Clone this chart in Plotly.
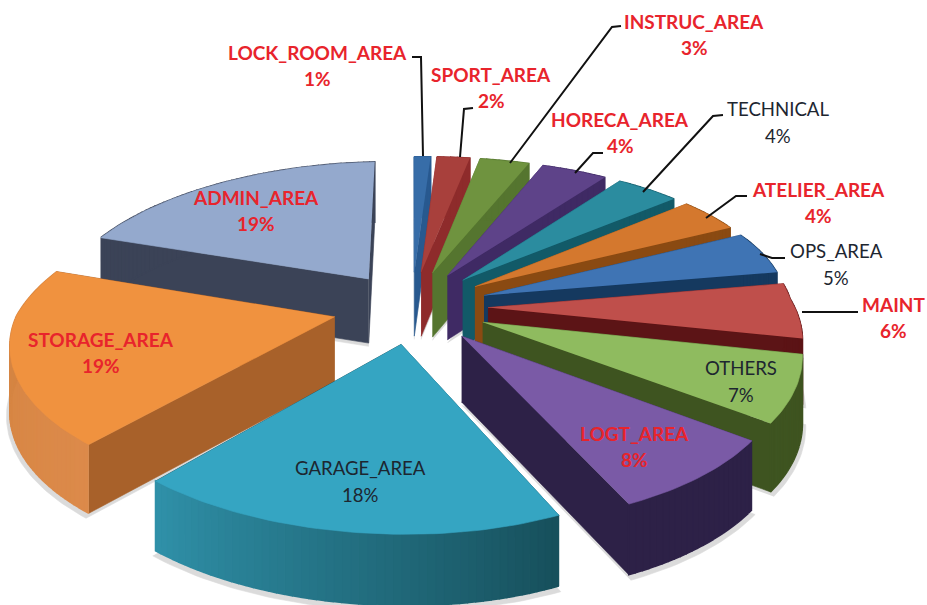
import numpy as np
import plotly.graph_objects as go

# ---- data (clockwise from 12 o'clock) ----
CATEGORIES = ["LOCK_ROOM_AREA", "SPORT_AREA", "INSTRUC_AREA", "HORECA_AREA", "TECHNICAL",
              "ATELIER_AREA", "OPS_AREA", "MAINT", "OTHERS", "LOGT_AREA",
              "GARAGE_AREA", "STORAGE_AREA", "ADMIN_AREA"]
VALUES = [1, 2, 3, 4, 4, 4, 5, 6, 7, 8, 18, 19, 19]

# ---- styles ----
TOP = ["#376da8", "#a8403c", "#6f933f", "#5e4389", "#2b8c9f", "#d4782e", "#3f74b4",
       "#bf4f4b", "#8fbb5f", "#7a5aa6", "#35a5c2", "#f0923f", "#94a9cd"]
RADIAL = ["#28598f", "#8e2b2b", "#55752f", "#3f2a64", "#125a68", "#8a4a12", "#15395f",
          "#5c1416", "#3e5420", "#2d2147", "#17505c", "#a8612a", "#3b4357"]
OUTER_A = ["#28598f", "#8e2b2b", "#55752f", "#3f2a64", "#125a68", "#8a4a12", "#15395f",
           "#5c1416", "#3e5420", "#2d2147", "#17505c", "#dc8a4a", "#3b4357"]
OUTER_B = ["#28598f", "#8e2b2b", "#55752f", "#3f2a64", "#125a68", "#8a4a12", "#15395f",
           "#5c1416", "#3e5420", "#2d2147", "#2f90a8", "#d2823f", "#3b4357"]
RED = "#e8242c"
BLACK = "#1d2630"
LABEL_RED = [True, True, True, True, False, True, False, True, False, True, False, True, True]
NAME_POS = [(317, 52), (491, 74), (694, 21), (620, 119), (778, 109), (818, 189), (836, 251),
            (893, 304), (741, 368), (634, 433), (360, 468), (101, 339), (256, 197)]
LINE_GAP = 26.5
LEADERS = [
    [(412, 57), (421, 57), (423, 156)],
    [(473, 108), (464, 109), (460, 157)],
    [(621, 26), (612, 27), (510, 163)],
    [(603, 153), (593, 153), (575, 173)],
    [(723, 115), (713, 116), (643, 192)],
    [(747, 196), (736, 196), (706, 218)],
    [(785, 258), (772, 258), (760, 254)],
    [(858, 312), (802, 312)],
]

# ---- projection ----
CX, CY = 412, 307
A, B, K, H, S = 312, 145, 0.165, 65, 18
A_RIGHT, A_RIGHT_BACK, A_LEFT = 0.97, 0.05, 1.02
ROLL = 0.022
EXPLODE = 0.25


def project(x, y, z=0.0):
    x = np.asarray(x, float)
    y = np.asarray(y, float)
    s = 1 / (1 + K * y)
    back = np.clip(y, 0, 1)
    scale = np.where(x > 0, A_RIGHT + A_RIGHT_BACK * back, A_LEFT)
    sx = (A * x * scale - S * np.minimum(y, 0)) * s
    roll = np.where(sx > 0, ROLL * (1 - 0.5 * back), ROLL)
    return CX + sx, CY - B * y * s + H * z * s ** 0.4 - roll * sx


def mix(c1, c2, t):
    a = [int(c1[i:i + 2], 16) for i in (1, 3, 5)]
    b = [int(c2[i:i + 2], 16) for i in (1, 3, 5)]
    return "#" + "".join(f"{round(p + (q - p) * t):02x}" for p, q in zip(a, b))


fig = go.Figure()


def poly(xs, ys, color, opacity=1.0, width=0.6):
    fig.add_trace(go.Scatter(x=list(xs), y=list(ys), mode="lines", fill="toself",
                             fillcolor=color, line=dict(color=color, width=width),
                             opacity=opacity, hoverinfo="skip", showlegend=False))


vals = np.array(VALUES, float)
edges = np.concatenate([[0], np.cumsum(vals)]) / vals.sum() * 2 * np.pi
mids = (edges[:-1] + edges[1:]) / 2
order = np.argsort(-np.cos(mids))  # farthest first

for i in order:
    a0, a1, m = edges[i], edges[i + 1], mids[i]
    ox, oy = EXPLODE * np.sin(m), EXPLODE * np.cos(m)
    th = np.linspace(a0, a1, max(6, int(VALUES[i] * 3)))
    gx, gy = ox + np.sin(th), oy + np.cos(th)

    # soft shadow
    sx, sy = project(np.r_[ox, ox + 1.01 * np.sin(th)], np.r_[oy, oy + 1.01 * np.cos(th)], 1.05)
    poly(sx, sy, "#9a9a9a", 0.35)

    # radial walls (far one first)
    ends = sorted([a0, a1], key=lambda t: -np.cos(t))
    for t in ends:
        ex, ey = ox + np.sin(t), oy + np.cos(t)
        x1, y1 = project(ox, oy)
        x2, y2 = project(ex, ey)
        x3, y3 = project(ex, ey, 1)
        x4, y4 = project(ox, oy, 1)
        poly([x1, x2, x3, x4], [y1, y2, y3, y4], RADIAL[i])

    # outer wall with a stepped gradient
    n = len(th) - 1
    for j in range(n):
        xa, ya = project(gx[j:j + 2], gy[j:j + 2])
        xb, yb = project(gx[j:j + 2][::-1], gy[j:j + 2][::-1], 1)
        poly(np.r_[xa, xb], np.r_[ya, yb], mix(OUTER_A[i], OUTER_B[i], j / max(n - 1, 1)), width=1.6)

    # top face
    tx, ty = project(np.r_[ox, gx], np.r_[oy, gy])
    poly(tx, ty, TOP[i])

for path in LEADERS:
    fig.add_trace(go.Scatter(x=[p[0] for p in path], y=[p[1] for p in path], mode="lines",
                             line=dict(color="#111111", width=2), hoverinfo="skip", showlegend=False))

for name, v, pos, red in zip(CATEGORIES, VALUES, NAME_POS, LABEL_RED):
    font = dict(family="Lato, Carlito, Open Sans, sans-serif", size=19 if red else 18.6,
                color=RED if red else BLACK, weight=700 if red else 400)
    fig.add_annotation(x=pos[0], y=pos[1], text=name, showarrow=False, font=font)
    fig.add_annotation(x=pos[0], y=pos[1] + LINE_GAP, text=f"{v}%", showarrow=False, font=font)

fig.update_layout(
    width=927, height=605, margin=dict(l=0, r=0, t=0, b=0),
    paper_bgcolor="white", plot_bgcolor="white", showlegend=False,
    xaxis=dict(range=[0, 927], visible=False, fixedrange=True),
    yaxis=dict(range=[605, 0], visible=False, fixedrange=True),
)
fig.write_html("out.html", config={"displayModeBar": False},
               post_script="document.body.style.margin='0';document.body.style.overflow='hidden';")
